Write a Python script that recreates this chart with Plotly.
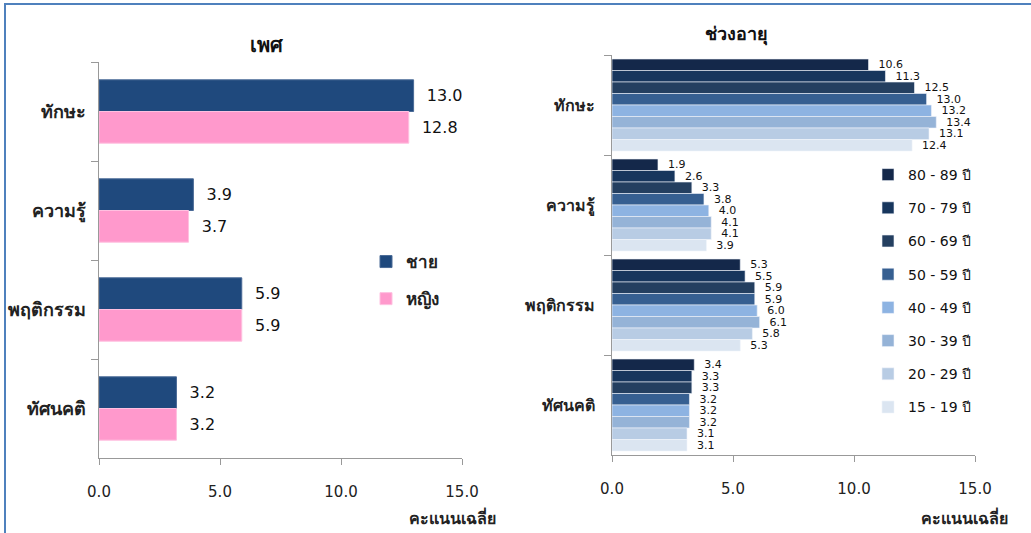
import plotly.graph_objects as go

# ---- data ----
categories = ["ทักษะ", "ความรู้", "พฤติกรรม", "ทัศนคติ"]

sex_names = ["ชาย", "หญิง"]
sex_male = [13.0, 3.9, 5.9, 3.2]
sex_female = [12.8, 3.7, 5.9, 3.2]
sex_colors = ["#1f497d", "#ff99cc"]

age_names = ["80 - 89 ปี", "70 - 79 ปี", "60 - 69 ปี", "50 - 59 ปี",
             "40 - 49 ปี", "30 - 39 ปี", "20 - 29 ปี", "15 - 19 ปี"]
age_80_89 = [10.6, 1.9, 5.3, 3.4]
age_70_79 = [11.3, 2.6, 5.5, 3.3]
age_60_69 = [12.5, 3.3, 5.9, 3.3]
age_50_59 = [13.0, 3.8, 5.9, 3.2]
age_40_49 = [13.2, 4.0, 6.0, 3.2]
age_30_39 = [13.4, 4.1, 6.1, 3.2]
age_20_29 = [13.1, 4.1, 5.8, 3.1]
age_15_19 = [12.4, 3.9, 5.3, 3.1]
age_values = [age_80_89, age_70_79, age_60_69, age_50_59,
              age_40_49, age_30_39, age_20_29, age_15_19]
age_colors = ["#14284a", "#17365d", "#243f60", "#365f91",
              "#8db3e2", "#95b3d7", "#b8cce4", "#dbe5f1"]

x_ticks = [0, 5, 10, 15]
x_ticktext = ["0.0", "5.0", "10.0", "15.0"]

FONT = "Tahoma, Verdana, DejaVu Sans, sans-serif"
W, H = 1031, 533

fig = go.Figure()

for name, vals, col in zip(sex_names, [sex_male, sex_female], sex_colors):
    fig.add_trace(go.Bar(
        y=categories, x=vals, orientation="h", name=name,
        marker=dict(color=col, line=dict(color="#4a6a96" if col == "#1f497d" else "#ffc0e0", width=1)),
        text=[f"{v:.1f}" for v in vals], textposition="outside",
        textfont=dict(size=16, color="#111", family=FONT),
        texttemplate="  %{text}", constraintext="none", cliponaxis=False,
        xaxis="x", yaxis="y", legend="legend", legendgroup=name,
    ))

for name, vals, col in zip(age_names, age_values, age_colors):
    fig.add_trace(go.Bar(
        y=categories, x=vals, orientation="h", name=name,
        marker=dict(color=col, line=dict(color="#f0f4fa", width=0.6)),
        text=[f"{v:.1f}" for v in vals], textposition="outside",
        textfont=dict(size=11, color="#111", family=FONT),
        texttemplate="  %{text}", constraintext="none", cliponaxis=False,
        xaxis="x2", yaxis="y2", legend="legend2", legendgroup=name,
    ))

axis_common = dict(
    range=[0, 15], tickvals=x_ticks, ticktext=x_ticktext, automargin=False,
    showgrid=False, zeroline=False, showline=True, linecolor="#999", linewidth=1,
    ticks="outside", ticklen=6, tickcolor="#999",
    tickfont=dict(size=15, color="#222", family=FONT),
    ticklabelstandoff=14,
)
yaxis_common = dict(
    type="category", categoryorder="array", categoryarray=categories,
    autorange="reversed", showgrid=False, zeroline=False, automargin=False,
    showline=True, linecolor="#999", linewidth=1,
    ticks="outside", ticklen=7, tickcolor="#999", tickson="boundaries",
)

fig.update_layout(
    width=W, height=H,
    margin=dict(l=0, r=0, t=0, b=0, autoexpand=False),
    paper_bgcolor="white", plot_bgcolor="white",
    font=dict(family=FONT, color="#222"),
    barmode="group",
    bargap=0.36,
    showlegend=True,
    xaxis=dict(domain=[99 / W, 462 / W], anchor="y", **axis_common),
    yaxis=dict(domain=[1 - 458 / H, 1 - 62 / H], anchor="x",
               tickfont=dict(size=18, color="#222", family=FONT, weight="bold"),
               ticklabelstandoff=8, **yaxis_common),
    xaxis2=dict(domain=[612 / W, 975 / W], anchor="y2", **axis_common),
    yaxis2=dict(domain=[1 - 455 / H, 1 - 55 / H], anchor="x2",
                tickfont=dict(size=16, color="#222", family=FONT, weight="bold"),
                ticklabelstandoff=13, **yaxis_common),
    legend=dict(x=366 / W, y=1 - 244 / H, xanchor="left", yanchor="top",
                font=dict(size=17, color="#222", family=FONT, weight="bold"),
                bgcolor="rgba(0,0,0,0)", tracegroupgap=12, itemwidth=30),
    legend2=dict(x=868 / W, y=1 - 159 / H, xanchor="left", yanchor="top",
                 font=dict(size=14, color="#111", family=FONT),
                 bgcolor="rgba(0,0,0,0)", tracegroupgap=12, itemwidth=30),
    annotations=[
        dict(text="<b>เพศ</b>", x=248 / W, y=1 - 31 / H, xref="paper", yref="paper",
             showarrow=False, font=dict(size=20, color="#111", family=FONT)),
        dict(text="<b>ช่วงอายุ</b>", x=770 / W, y=1 - 21 / H, xref="paper", yref="paper",
             showarrow=False, font=dict(size=18, color="#111", family=FONT)),
        dict(text="คะแนนเฉลี่ย", x=498 / W, y=1 - 517 / H, xref="paper", yref="paper",
             xanchor="right", yanchor="middle", showarrow=False,
             font=dict(size=16, color="#222", family=FONT, weight="bold")),
        dict(text="คะแนนเฉลี่ย", x=1010 / W, y=1 - 517 / H, xref="paper", yref="paper",
             xanchor="right", yanchor="middle", showarrow=False,
             font=dict(size=16, color="#222", family=FONT, weight="bold")),
    ],
    shapes=[
        dict(type="rect", xref="paper", yref="paper",
             x0=5 / W, x1=1.02, y0=-0.05, y1=1 - 4 / H,
             line=dict(color="#4f81bd", width=2), fillcolor="rgba(0,0,0,0)"),
    ],
)

# right chart uses a narrower gap between bar groups
n_age = len(age_names)
gap_r = 0.08
bw = (1 - gap_r) / n_age
for i, tr in enumerate(fig.data[2:]):
    tr.width = bw
    tr.offset = -0.5 + gap_r / 2 + i * bw

fig.write_html("out.html")
